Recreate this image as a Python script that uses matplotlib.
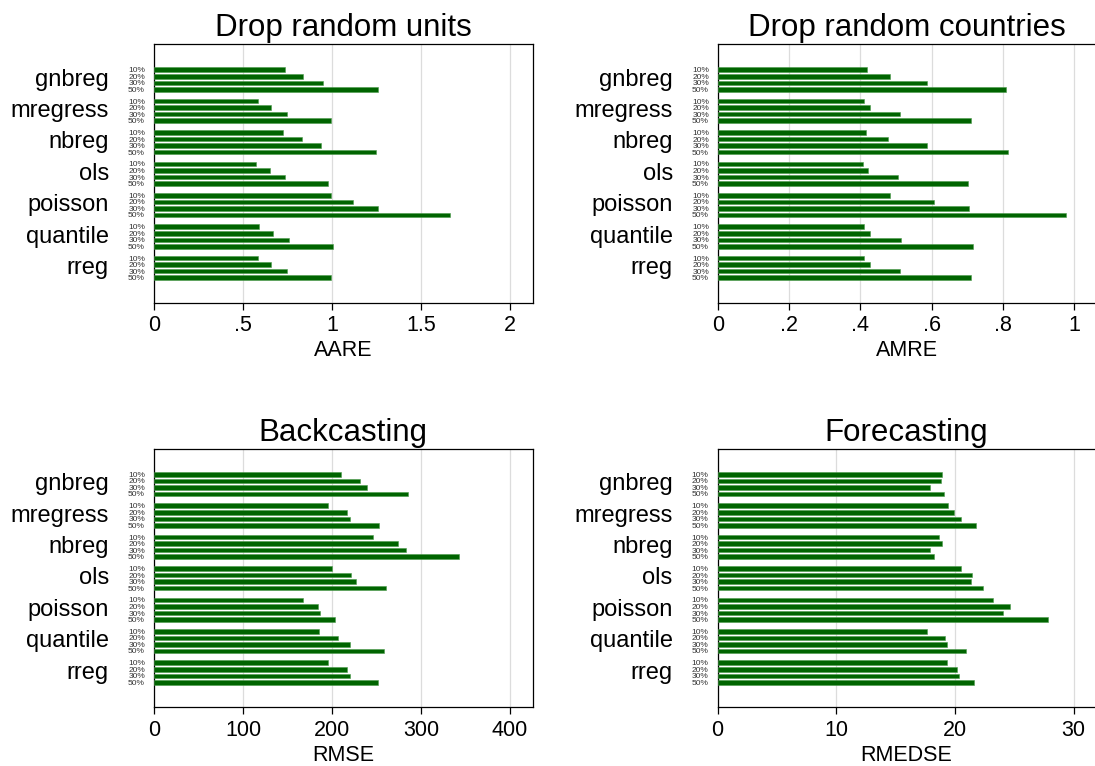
import numpy as np
import matplotlib.pyplot as plt
from matplotlib.ticker import FuncFormatter

plt.rcParams['font.family'] = ['Liberation Sans', 'DejaVu Sans']

# Model comparison across four validation schemes

models = ['gnbreg', 'mregress', 'nbreg', 'ols', 'poisson', 'quantile', 'rreg']
shares = ['10%', '20%', '30%', '50%']

# rows = models, columns = share dropped (10, 20, 30, 50%)
aare = [[0.736, 0.837, 0.947, 1.258],
        [0.582, 0.659, 0.747, 0.994],
        [0.725, 0.831, 0.938, 1.245],
        [0.573, 0.650, 0.734, 0.977],
        [0.994, 1.118, 1.260, 1.661],
        [0.590, 0.669, 0.756, 1.006],
        [0.582, 0.659, 0.747, 0.994]]

amre = [[0.419, 0.483, 0.587, 0.810],
        [0.410, 0.427, 0.511, 0.711],
        [0.417, 0.478, 0.587, 0.815],
        [0.408, 0.422, 0.506, 0.701],
        [0.483, 0.607, 0.705, 0.978],
        [0.411, 0.428, 0.513, 0.716],
        [0.410, 0.427, 0.511, 0.711]]

rmse = [[209.7, 231.8, 239.0, 285.8],
        [195.5, 216.9, 220.6, 252.8],
        [246.0, 273.8, 283.1, 342.3],
        [199.6, 221.0, 226.6, 260.3],
        [167.4, 184.3, 186.2, 203.7],
        [185.4, 207.1, 220.2, 258.1],
        [195.1, 216.5, 219.9, 251.7]]

rmedse = [[18.87, 18.79, 17.91, 19.07],
          [19.38, 19.88, 20.53, 21.79],
          [18.62, 18.87, 17.91, 18.25],
          [20.53, 21.40, 21.34, 22.35],
          [23.19, 24.60, 24.01, 27.80],
          [17.61, 19.15, 19.32, 20.92],
          [19.35, 20.19, 20.38, 21.59]]


def stata_fmt(v, pos):
    s = ('%g' % v)
    if s.startswith('0.'):
        s = s[1:]
    return s


def panel(fig, rect, vals, title, xlabel, xmax, ticks, right_spine=True):
    ax = fig.add_axes(rect)
    vals = np.array(vals)
    gstep = 4.8
    pos = []
    for g in range(len(models)):
        for j in range(len(shares)):
            pos.append(g * gstep + j)
    pos = np.array(pos)
    ax.barh(pos, vals.ravel(), height=0.7, color='#006400',
            edgecolor='#4c9a4c', linewidth=0.4, zorder=3)
    ax.set_ylim(pos[-1] + 3.82, -3.88)
    ax.set_xlim(0, xmax)
    ax.set_xticks(ticks)
    ax.xaxis.set_major_formatter(FuncFormatter(stata_fmt))
    ax.grid(axis='x', color='#dcdcdc', linewidth=0.9, zorder=0)
    ax.set_yticks(pos)
    ax.set_yticklabels(shares * len(models), fontsize=6, color='#333333')
    ax.tick_params(axis='y', length=0, pad=6.5)
    ax.tick_params(axis='x', length=5, width=0.9, pad=4, labelsize=15.5)
    for sp in ax.spines.values():
        sp.set_linewidth(0.9)
    if not right_spine:
        ax.spines['right'].set_visible(False)
    for g, m in enumerate(models):
        yc = g * gstep + 1.5
        ax.annotate(m, xy=(0, yc), xycoords=('axes fraction', 'data'),
                    xytext=(-32.5, 0), textcoords='offset points',
                    ha='right', va='center', fontsize=17)
    ax.set_title(title, fontsize=22.5, pad=6)
    ax.set_xlabel(xlabel, fontsize=15.5, labelpad=3)
    return ax


fig = plt.figure(figsize=(10.95, 7.66), dpi=100)

panel(fig, [0.1406, 0.6048, 0.3458, 0.3373], aare, 'Drop random units', 'AARE',
      2.127, [0, 0.5, 1, 1.5, 2])
panel(fig, [0.6557, 0.6048, 0.3443, 0.3373], amre, 'Drop random countries', 'AMRE',
      1.059, [0, 0.2, 0.4, 0.6, 0.8, 1], right_spine=False)
panel(fig, [0.1406, 0.0766, 0.3458, 0.3373], rmse, 'Backcasting', 'RMSE',
      425.5, [0, 100, 200, 300, 400])
panel(fig, [0.6554, 0.0766, 0.3446, 0.3373], rmedse, 'Forecasting', 'RMEDSE',
      31.8, [0, 10, 20, 30], right_spine=False)

fig.savefig('out.png', dpi=100)
